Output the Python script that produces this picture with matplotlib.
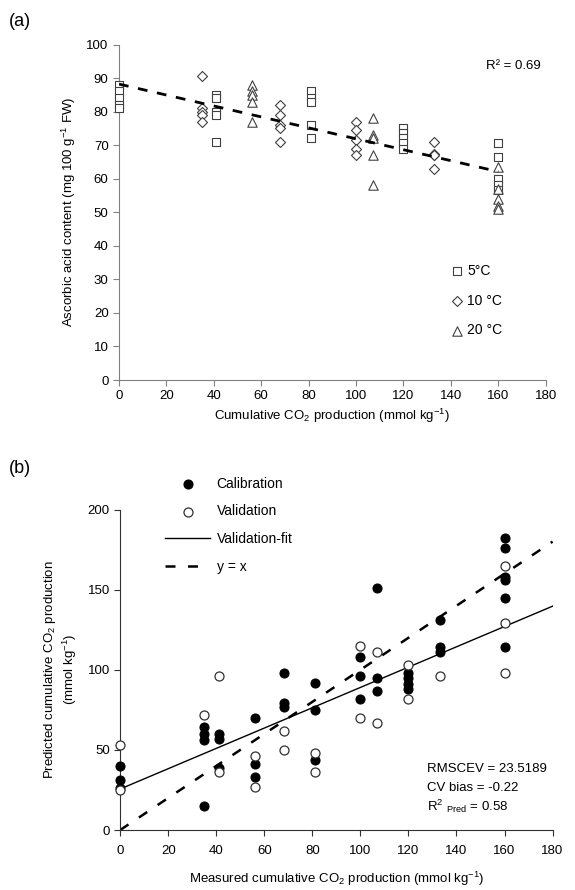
import numpy as np
import matplotlib
matplotlib.use('Agg')
import matplotlib.pyplot as plt

plt.rcParams['font.family'] = ['Liberation Sans', 'DejaVu Sans']
plt.rcParams['mathtext.default'] = 'regular'
plt.rcParams['font.size'] = 9.5

# ---- panel (a) data: cumulative CO2 vs ascorbic acid ----
x5 = [0, 0, 0, 0, 0, 41, 41, 41, 41, 41, 81, 81, 81, 81, 81,
      120, 120, 120, 120, 120, 160, 160, 160, 160, 160]
y5 = [88, 86, 84, 82, 81, 85, 84, 80, 79, 71, 86, 84, 83, 76, 72,
      75, 73.5, 72, 70.5, 69, 70.5, 66.5, 60, 58, 56.5]
x10 = [35, 35, 35, 35, 35, 68, 68, 68, 68, 68, 100, 100, 100, 100, 100,
       133, 133, 133, 133, 133]
y10 = [90.5, 81, 80, 79, 77, 82, 79, 76, 75, 71, 77, 74.5, 71.5, 69, 67,
       71, 67.5, 67, 67, 63]
x20 = [56, 56, 56, 56, 56, 107, 107, 107, 107, 107, 160, 160, 160, 160, 160]
y20 = [88, 86, 85, 83, 77, 78, 73, 72, 67, 58, 63.5, 57, 54, 52, 51]
fit_a = [-0.163, 88.2]   # slope, intercept of trend line
r2_a = 0.69

# ---- panel (b) data: measured vs predicted ----
x_cal = [0, 0, 0, 35, 35, 35, 35, 41, 41, 41, 56, 56, 56, 68, 68, 68,
         81, 81, 81, 100, 100, 100, 107, 107, 107, 120, 120, 120, 120,
         133, 133, 133, 160, 160, 160, 160, 160, 160]
y_cal = [40, 31, 26, 64, 60, 56, 15, 60, 57, 39, 70, 41, 33, 98, 79, 77,
         92, 75, 44, 108, 96, 82, 151, 95, 87, 98, 95, 91, 88,
         131, 114, 111, 182, 176, 158, 156, 145, 114]
x_val = [0, 0, 35, 41, 41, 56, 56, 68, 68, 81, 81, 100, 100, 107, 107,
         120, 120, 133, 160, 160, 160]
y_val = [53, 25, 72, 96, 36, 46, 27, 62, 50, 48, 36, 115, 70, 111, 67,
         103, 82, 96, 165, 129, 98]
fit_b = [0.634, 25.6]
stats_b = ['RMSCEV = 23.5189', 'CV bias = -0.22', 'R$^{2}$ $_{Pred}$ = 0.58']

fig = plt.figure(figsize=(5.75, 8.9), dpi=100)

# (a)
ax1 = fig.add_axes([0.207, 0.573, 0.742, 0.377])
mk = dict(facecolors='white', edgecolors='#404040', linewidths=0.8, s=40,
          zorder=3, clip_on=False)
ax1.scatter(x5, y5, marker='s', label='5°C', **mk)
ax1.scatter(x10, y10, marker='D', label='10 °C', **dict(mk, s=26))
ax1.scatter(x20, y20, marker='^', label='20 °C', **dict(mk, s=46))
xx = np.array([0, 160])
ax1.plot(xx, fit_a[0] * xx + fit_a[1], color='black', lw=2,
         linestyle=(0, (3.5, 3.5)), zorder=4)
ax1.set_xlim(0, 180)
ax1.set_ylim(0, 100)
ax1.set_xticks(np.arange(0, 181, 20))
ax1.set_yticks(np.arange(0, 101, 10))
ax1.set_xlabel('Cumulative CO$_2$ production (mmol kg$^{-1}$)', labelpad=3)
ax1.set_ylabel('Ascorbic acid content (mg 100 g$^{-1}$ FW)', labelpad=6)
ax1.text(0.86, 0.955, 'R² = %.2f' % r2_a, transform=ax1.transAxes,
         ha='left', va='top', fontsize=9.5)
ax1.legend(loc='upper left', bbox_to_anchor=(0.765, 0.362), frameon=False,
           handlelength=0.9, handletextpad=0.25, labelspacing=1.12,
           fontsize=10, borderaxespad=0)
fig.text(0.015, 0.985, '(a)', fontsize=13, va='top')

# (b)
ax2 = fig.add_axes([0.209, 0.0674, 0.752, 0.36])
ax2.scatter(x_cal, y_cal, marker='o', s=42, facecolors='black',
            edgecolors='black', linewidths=0.8, zorder=3, clip_on=False,
            label='Calibration')
ax2.scatter(x_val, y_val, marker='o', s=42, facecolors='white',
            edgecolors='#303030', linewidths=0.9, zorder=4, clip_on=False,
            label='Validation')
xb = np.array([0, 180])
ax2.plot(xb, fit_b[0] * xb + fit_b[1], color='black', lw=1, label='Validation-fit')
ax2.plot(xb, xb, color='black', lw=1.8, linestyle=(0, (4, 5)), label='y = x')
ax2.set_xlim(0, 180)
ax2.set_ylim(0, 200)
ax2.set_xticks(np.arange(0, 181, 20))
ax2.set_yticks(np.arange(0, 201, 50))
ax2.set_xlabel('Measured cumulative CO$_2$ production (mmol kg$^{-1}$)', labelpad=9)
ax2.set_ylabel('Predicted cumulative CO$_2$ production\n(mmol kg$^{-1}$)', labelpad=6)
ax2.legend(loc='upper left', bbox_to_anchor=(0.09, 1.12), frameon=False,
           handlelength=3.3, handletextpad=0.45, labelspacing=0.98,
           fontsize=10, borderaxespad=0)
for i, s in enumerate(stats_b):
    ax2.text(0.71, 0.19 - i * 0.058, s, transform=ax2.transAxes,
             ha='left', va='center', fontsize=9.5)
fig.text(0.015, 0.483, '(b)', fontsize=13, va='top')

for ax, c in [(ax1, '#808080'), (ax2, '#303030')]:
    ax.spines['top'].set_visible(False)
    ax.spines['right'].set_visible(False)
    ax.spines['left'].set_color(c)
    ax.spines['bottom'].set_color(c)
    ax.tick_params(direction='out', length=4, color=c, labelsize=9.5)
ax2.tick_params(axis='x', pad=7)

fig.savefig('out.png', dpi=100)
